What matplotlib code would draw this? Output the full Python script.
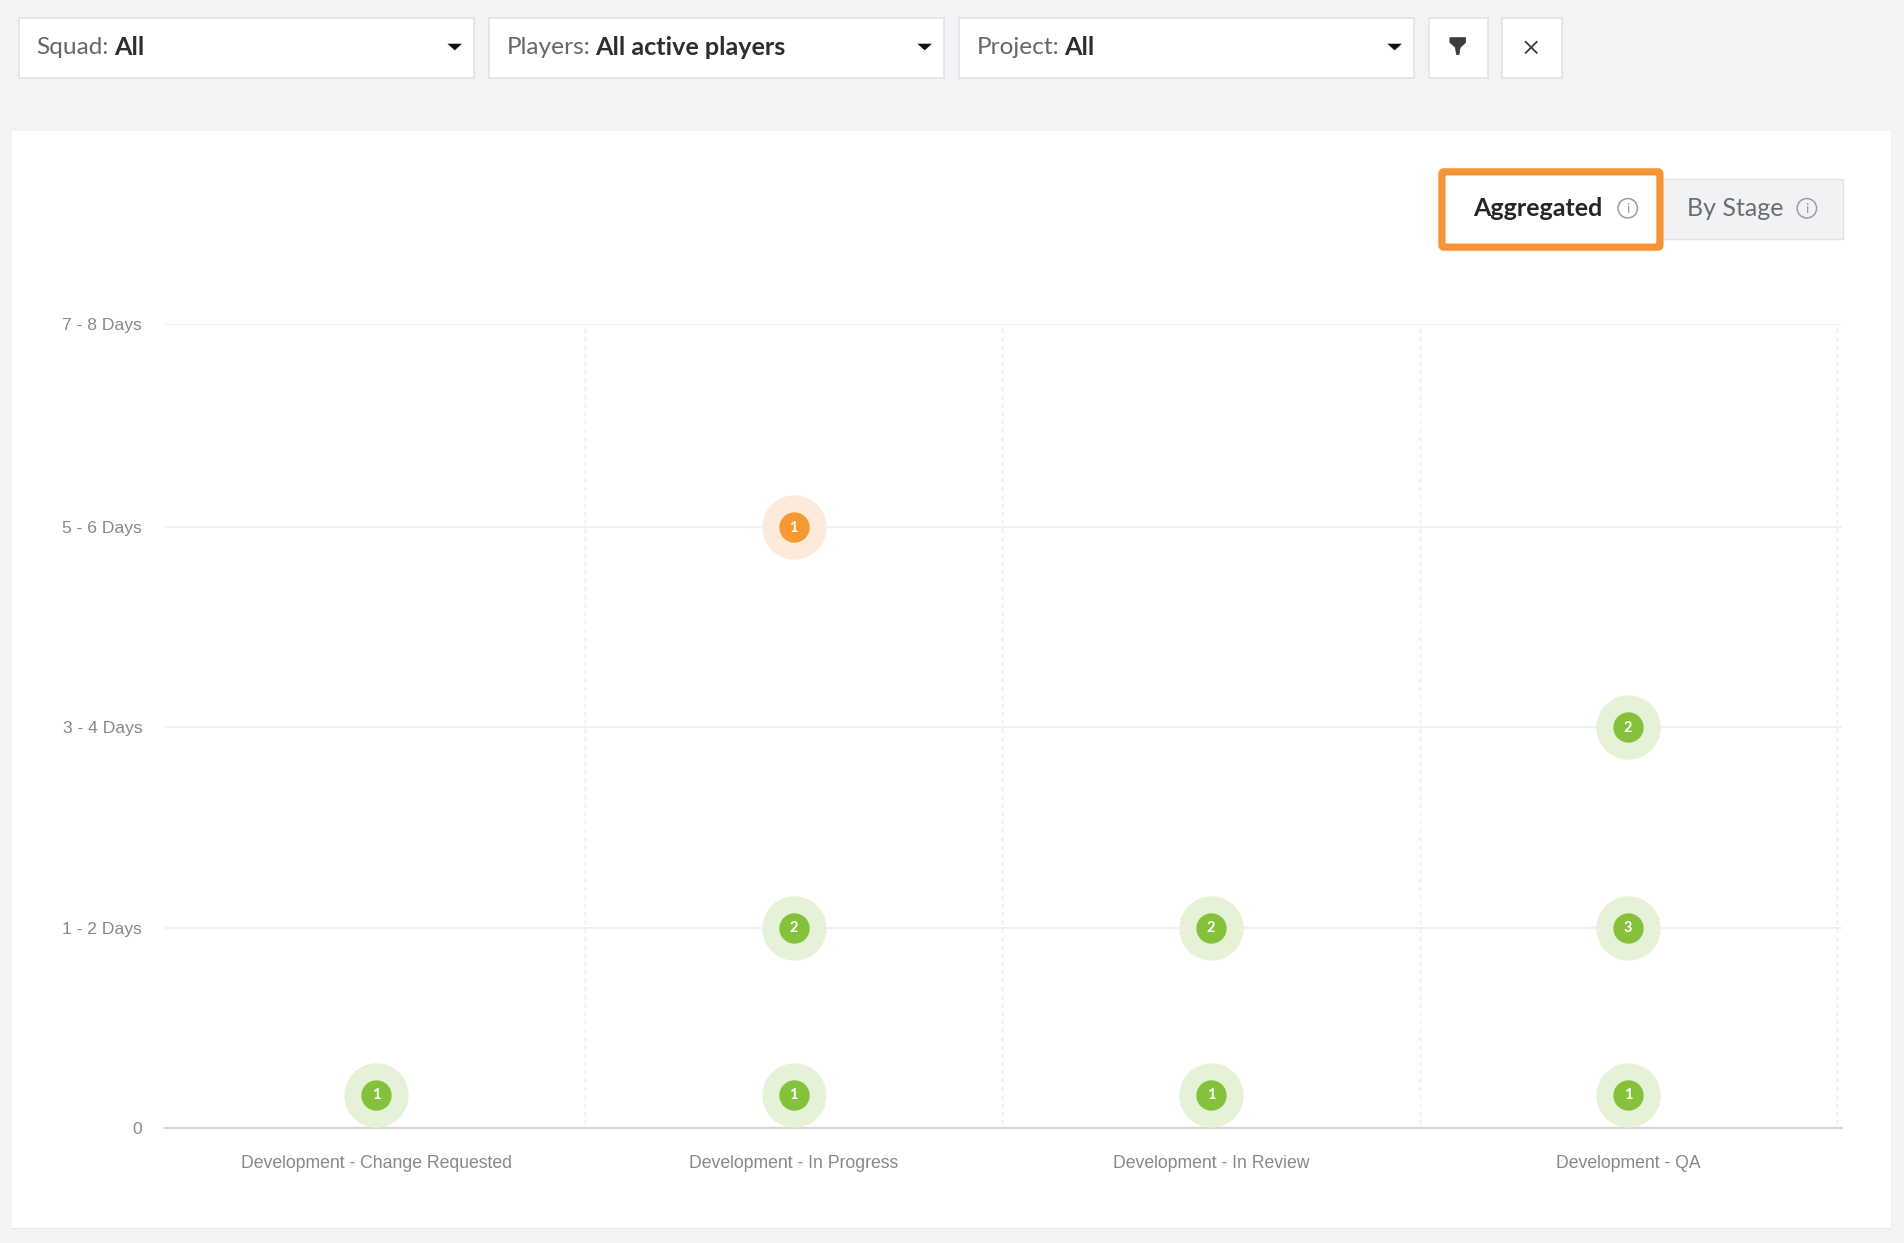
import matplotlib
matplotlib.use("Agg")
import matplotlib.pyplot as plt
from matplotlib.patches import Rectangle, FancyBboxPatch, Circle, Polygon

W, H = 1904, 1243
S = 1904 / 1568

stages = ["Development - Change Requested", "Development - In Progress", "Development - In Review", "Development - QA"]
levels = ["0", "1 - 2 Days", "3 - 4 Days", "5 - 6 Days", "7 - 8 Days"]
point_stage = [0, 1, 1, 1, 2, 2, 3, 3, 3]
point_level = [0.167, 0.167, 1, 3, 0.167, 1, 0.167, 1, 2]
point_count = [1, 1, 2, 1, 1, 2, 1, 3, 2]
point_status = ["g", "g", "g", "o", "g", "g", "g", "g", "g"]
filters = [("Squad:", "All"), ("Players:", "All active players"), ("Project:", "All")]

plt.rcParams["font.family"] = ["Lato", "DejaVu Sans"]
fig = plt.figure(figsize=(W / 100, H / 100), dpi=100, facecolor="#f2f3f5")
bg = fig.add_axes([0, 0, 1, 1])
bg.set_xlim(0, 1568)
bg.set_ylim(1023.6, 0)
bg.axis("off")

# card with a faint shadow
bg.add_patch(Rectangle((9.5, 108.5), 1548, 903.5, fc="#e6e7e9", ec="none"))
bg.add_patch(Rectangle((9.5, 107.5), 1548, 903.5, fc="white", ec="none"))

# filter boxes
for i, (a, b) in enumerate(filters):
    x = 15.5 + i * 387
    bg.add_patch(Rectangle((x, 14.5), 375, 49.5, fc="white", ec="#e2e3e7", lw=1.2))
    t = bg.text(x + 14.5, 39.3, a, fontsize=17.6, color="#63666c", va="center")
    fig.canvas.draw()
    ext = t.get_window_extent().transformed(bg.transData.inverted())
    bg.text(ext.x1 + 4, 39.3, b, fontsize=18.1, color="#2b2d31", va="center", fontweight="bold")
    bg.add_patch(Polygon([(x + 353, 36), (x + 365, 36), (x + 359, 41.5)], fc="#111111", ec="none"))
for x, w in [(1176.5, 49), (1237, 49.5)]:
    bg.add_patch(Rectangle((x, 14.5), w, 49.5, fc="white", ec="#e2e3e7", lw=1.2))
bg.add_patch(Polygon([(1194, 31), (1207, 31), (1207, 35), (1202.5, 39), (1201.5, 45), (1199.5, 45), (1198.5, 39), (1194, 35)],
                     fc="#3a3c40", ec="#3a3c40", lw=0.5))
bg.plot([1256.5, 1265.5], [34.5, 43.5], color="#3a3c40", lw=1.3)
bg.plot([1256.5, 1265.5], [43.5, 34.5], color="#3a3c40", lw=1.3)

# toggle
bg.add_patch(Rectangle((1369, 147), 149, 49.5, fc="#f1f2f4", ec="#e2e3e7", lw=1))
bg.add_patch(FancyBboxPatch((1187.5, 141.5), 179.5, 62, boxstyle="round,pad=0,rounding_size=1.5",
                            fc="white", ec="#f59436", lw=5.2))
bg.text(1213, 172, "Aggregated", fontsize=18, fontweight="bold", color="#24262a", va="center")
bg.text(1389, 172, "By Stage", fontsize=18, color="#6a6e73", va="center")
for cx in (1340.5, 1488):
    bg.add_patch(Circle((cx, 171.5), 8, fc="none", ec="#9a9da2", lw=1.1))
    bg.text(cx, 171.8, "i", fontsize=10, color="#9a9da2", ha="center", va="center")

# chart axes: category scale spans the plot, each stage one unit wide
X0, X1, Y0, Y1 = 136, 1517, 929, 267
first_centre, unit = 310.0, 343.6
ax = fig.add_axes([X0 / 1568, 1 - Y0 / 1023.6, (X1 - X0) / 1568, (Y0 - Y1) / 1023.6])
ax.patch.set_alpha(0)
ax.set_xlim((X0 - first_centre) / unit, (X1 - first_centre) / unit)
ax.set_ylim(0, 4)
for s in ax.spines.values():
    s.set_visible(False)
ax.spines["bottom"].set_visible(True)
ax.spines["bottom"].set_color("#d3d5d8")
ax.spines["bottom"].set_linewidth(1.6)

yticks = [0, 165 / 165.5, 330 / 165.5, 495 / 165.5, 662 / 165.5]
ax.set_yticks(yticks)
ax.set_yticklabels(levels, fontsize=12.6, color="#85888c", fontfamily=["Liberation Sans"], y=0)
ax.set_xticks(range(4))
ax.set_xticklabels(stages, fontsize=12.7, color="#85888c", fontfamily=["Liberation Sans"])
ax.tick_params(length=0)
ax.tick_params(axis="y", pad=16.5)
ax.tick_params(axis="x", pad=19.5)
ax.set_axisbelow(True)
ax.grid(axis="y", color="#ebecee", lw=1.1)
for xv in [0.5, 1.5, 2.5, 3.5]:
    ax.plot([xv, xv], [0.02, 4], color="#e8e9eb", lw=1, ls=(0, (3, 3)), zorder=1)

col = {"g": ("#e6f2d8", "#85c13a"), "o": ("#fdeadb", "#f59a33")}
for s, l, c, st in zip(point_stage, point_level, point_count, point_status):
    halo, core = col[st]
    y = l * 165 / 165.5
    ax.scatter(s, y, s=(53 * S * 0.72) ** 2, color=halo, zorder=3, linewidths=0, clip_on=False)
    ax.scatter(s, y, s=(25 * S * 0.72) ** 2, color=core, zorder=4, linewidths=0, clip_on=False)
    ax.annotate(str(c), (s, y), xytext=(0, -0.5), textcoords="offset points", color="white", fontsize=10.5,
                fontweight="bold", ha="center", va="center", zorder=5)

fig.savefig("out.png", dpi=100, facecolor=fig.get_facecolor())
